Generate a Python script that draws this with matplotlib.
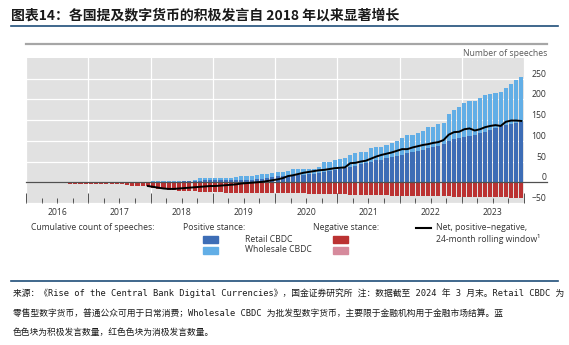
import numpy as np
import pandas as pd
import matplotlib
matplotlib.use("Agg")
import matplotlib.pyplot as plt
from matplotlib import font_manager
from matplotlib.lines import Line2D
from matplotlib.patches import Rectangle
from matplotlib.ticker import FixedLocator, FuncFormatter

# monthly observations, Jun 2016 .. Dec 2023
months = pd.period_range("2016-06", "2023-12", freq="M")

# positive stance, retail CBDC (cumulative count)
retail = ([0] * 7 + [0] * 12 +
          [1, 1, 1, 1, 1, 1, 2, 2, 2, 4, 5, 5] +
          [5, 5, 5, 5, 5, 6, 6, 6, 7, 9, 11, 13] +
          [15, 15, 15, 16, 17, 18, 20, 20, 22, 26, 27, 30] +
          [33, 35, 38, 40, 45, 47, 50, 53, 55, 58, 60, 63] +
          [66, 70, 72, 75, 78, 82, 85, 88, 93, 100, 105, 108] +
          [110, 112, 115, 118, 122, 126, 130, 135, 138, 141, 144, 146])

# positive stance, wholesale CBDC
wholesale = ([0] * 7 + [0] * 12 +
             [2, 2, 3, 3, 3, 3, 2, 2, 3, 6, 6, 6] +
             [6, 6, 6, 6, 7, 8, 9, 9, 10, 11, 9, 9] +
             [9, 11, 13, 15, 14, 13, 11, 13, 16, 22, 23, 25] +
             [22, 23, 28, 30, 27, 25, 33, 31, 31, 32, 36, 37] +
             [42, 44, 42, 43, 47, 52, 49, 52, 51, 66, 70, 73] +
             [81, 83, 82, 85, 88, 87, 85, 82, 90, 97, 103, 109])

# negative stance, retail CBDC (shown below zero)
neg_retail = ([2, 2, 2, 3, 3, 3, 3] +
              [3, 3, 4, 4, 4, 5, 5, 6, 8, 9, 10, 10] +
              [13, 15, 17, 18, 19, 20, 21, 22, 22, 23, 23, 24] +
              [24, 24, 25, 25, 25, 25, 25, 25, 26, 26, 26, 26] +
              [26, 26, 27, 27, 27, 27, 28, 28, 28, 29, 29, 29] +
              [29, 29, 30, 30, 30, 30, 31, 31, 31, 31, 32, 32] +
              [32, 32, 33, 33, 33, 33, 34, 34, 34, 34, 35, 35] +
              [35, 35, 35, 35, 36, 36, 36, 36, 36, 37, 37, 37])

# negative stance, wholesale CBDC
neg_wholesale = [0] * 91

# net positive-negative, 24-month rolling window (from Dec 2017)
net = ([None] * 7 + [None] * 11 + [-9] +
       [-11, -13, -15, -16, -16, -15, -14, -13, -12, -11, -10, -9] +
       [-9, -8, -7, -6, -5, -3, -2, -1, 0, 1, 3, 5] +
       [7, 10, 15, 17, 20, 23, 25, 27, 29, 30, 32, 34] +
       [35, 36, 46, 47, 50, 52, 57, 62, 66, 69, 72, 76] +
       [80, 80, 84, 87, 90, 92, 95, 97, 102, 115, 121, 122] +
       [128, 130, 125, 128, 133, 136, 138, 136, 146, 149, 149, 148])

year_ticks = list(range(2016, 2025))
y_ticks = [-50, 0, 50, 100, 150, 200, 250]

C_RETAIL = "#3d6db6"
C_WHOLE = "#62aee6"
C_NEG = "#bb3232"
C_NEGW = "#d68a9c"

x = np.array(months.year + (months.month - 0.5) / 12.0)
net = np.array([np.nan if v is None else v for v in net], dtype=float)
retail = np.array(retail)
wholesale = np.array(wholesale)
neg_retail = np.array(neg_retail)
neg_wholesale = np.array(neg_wholesale)

W, H = 569, 345
fig = plt.figure(figsize=(W / 100, H / 100), dpi=100)
plt.rcParams["font.family"] = ["Open Sans", "DejaVu Sans"]


def fx(px):
    return px / W


def fy(py):
    return 1 - py / H


ax = fig.add_axes([fx(26), fy(203), fx(524) - fx(26), fy(58) - fy(203)])
ax.set_facecolor("#e1e1e1")

bw = 0.8 / 12
ax.bar(x, retail, width=bw, color=C_RETAIL, zorder=2)
ax.bar(x, wholesale, width=bw, bottom=retail, color=C_WHOLE, zorder=2)
ax.bar(x, -neg_retail, width=bw, color=C_NEG, zorder=2)
ax.bar(x, -neg_wholesale, width=bw, bottom=-neg_retail, color=C_NEGW, zorder=2)
ax.plot(x, net, color="black", lw=1.4, zorder=4)
ax.axhline(0, xmin=0, xmax=(547 - 26) / (524 - 26), color="#505050",
           lw=0.9, zorder=3, clip_on=False)

ax.set_xlim(2016, 2024)
ax.set_ylim(-50, 300)

# year boundaries: major ticks + white grid, quarters: minor ticks
ax.xaxis.set_major_locator(FixedLocator(year_ticks))
quarters = [y + q for y in range(2016, 2024) for q in (0.25, 0.5, 0.75)]
ax.xaxis.set_minor_locator(FixedLocator(quarters))
ax.xaxis.set_major_formatter(FuncFormatter(lambda v, p: ""))
ax.xaxis.set_minor_formatter(
    FuncFormatter(lambda v, p: str(int(v)) if abs(v % 1 - 0.5) < 1e-6 else ""))
ax.tick_params(axis="x", which="major", direction="in", length=7.5,
               width=0.7, color="#505050")
ax.tick_params(axis="x", which="minor", direction="in", length=3.6,
               width=0.7, color="#505050", pad=3.5, labelsize=6.2,
               labelcolor="#333333")

ax.set_yticks(y_ticks)
ax.yaxis.tick_right()
ax.tick_params(axis="y", length=0, pad=16, labelsize=6.2, labelcolor="#333333")
plt.setp(ax.get_yticklabels(), ha="right", va="bottom")

ax.grid(axis="y", color="white", lw=0.9, zorder=1)
ax.grid(axis="x", which="major", color="white", lw=0.9, zorder=1)
ax.set_axisbelow(True)
for s in ax.spines.values():
    s.set_visible(False)

# title and rules
fig.text(fx(11), fy(15), "图表14：各国提及数字货币的积极发言自 2018 年以来显著增长",
         family=["Noto Sans CJK SC", "DejaVu Sans"], fontsize=10,
         fontweight="bold", color="#1a1a1a", va="center", ha="left")
fig.add_artist(Line2D([fx(11), fx(558)], [fy(26), fy(26)], color="#1f4e79", lw=1.2))
fig.add_artist(Line2D([fx(26), fx(547)], [fy(44), fy(44)], color="#a6a6a6", lw=1.6))
fig.text(fx(547), fy(53), "Number of speeches", ha="right", va="center",
         fontsize=6.2, color="#5a5a5a")

# legend
txt = dict(fontsize=6.2, color="#333333", va="center", ha="left")
fig.text(fx(31), fy(228), "Cumulative count of speeches:", **txt)
fig.text(fx(183), fy(228), "Positive stance:", **txt)
fig.text(fx(313), fy(228), "Negative stance:", **txt)
fig.text(fx(245), fy(239), "Retail CBDC", **txt)
fig.text(fx(245), fy(250), "Wholesale CBDC", **txt)
for px0, py0, c in [(203, 239, C_RETAIL), (203, 250, C_WHOLE),
                    (333, 239, C_NEG), (333, 250, C_NEGW)]:
    fig.add_artist(Rectangle((fx(px0), fy(py0 + 3.5)), fx(15), 7 / H,
                             color=c, transform=fig.transFigure))
fig.add_artist(Line2D([fx(416), fx(431)], [fy(228), fy(228)], color="black", lw=1.5))
fig.text(fx(436), fy(228), "Net, positive\u2013negative,", **txt)
fig.text(fx(436), fy(238.5), "24-month rolling window\u00b9", **txt)

# source note: half-width mono CJK font if available
installed = {f.name for f in font_manager.fontManager.ttflist}
if "Noto Sans Mono CJK SC" in installed:
    note_family, note_size = ["Noto Sans Mono CJK SC", "DejaVu Sans Mono"], 7.0
else:
    note_family, note_size = ["DejaVu Sans Mono", "Noto Sans CJK SC"], 6.3
fig.add_artist(Line2D([fx(11), fx(558)], [fy(281), fy(281)], color="#1f4e79", lw=1.2))
note = dict(family=note_family, fontsize=note_size,
            color="#1a1a1a", va="center", ha="left")
fig.text(fx(13), fy(293), "来源：《Rise of the Central Bank Digital Currencies》，"
         "国金证券研究所 注：数据截至 2024 年 3 月末。Retail CBDC 为", **note)
fig.text(fx(13), fy(313), "零售型数字货币，普通公众可用于日常消费；Wholesale CBDC "
         "为批发型数字货币，主要限于金融机构用于金融市场结算。蓝", **note)
fig.text(fx(13), fy(332), "色色块为积极发言数量，红色色块为消极发言数量。", **note)

fig.savefig("out.png", dpi=100)
